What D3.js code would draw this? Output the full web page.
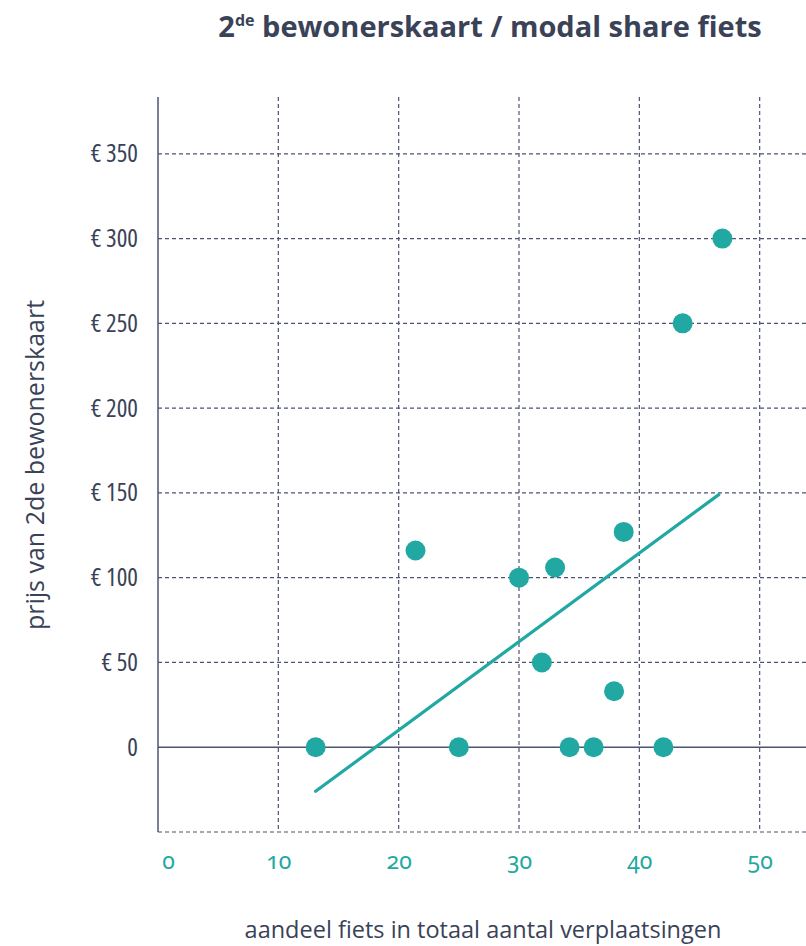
<!DOCTYPE html>
<meta charset="utf-8">
<html>
<head>
	<script src="https://cdn.jsdelivr.net/npm/d3@7"></script>
	<style>
		body { margin: 0; background: #fff; }
		text { font-family: "Open Sans", sans-serif; }
		.tick-x { font-family: "Noto Sans", sans-serif; font-variant-numeric: oldstyle-nums; font-feature-settings: "onum" 1; }
		.tick-y { font-family: "Open Sans", sans-serif; font-stretch: 87.5%; }
	</style>
</head>
<body>
	<svg id="chart"></svg>
	<script>
	// data
	var shareFiets = [13.1, 21.4, 25.0, 30.0, 33.0, 31.9, 34.2, 36.2, 37.9, 38.7, 42.0, 43.6, 46.9];
	var prijs      = [0,    116,  0,    100,  106,  50,   0,    0,    33,   127,  0,    250,  300];
	var trendX = [13.1, 46.6];
	var trendY = [-26, 149];
	var xTicks = [0, 10, 20, 30, 40, 50];
	var yTicks = [0, 50, 100, 150, 200, 250, 300, 350];

	var svgWidth = 806, svgHeight = 946;
	var teal = "#22a8a2", ink = "#3a4258", grid = "#4d5470";

	var margin = {top: 97, right: 0, bottom: 114, left: 158},
		graphWidth = svgWidth - margin.left - margin.right,
		graphHeight = svgHeight - margin.top - margin.bottom;

	var x = d3.scaleLinear().domain([0, 53.85]).range([0, graphWidth]);
	var y = d3.scaleLinear().domain([-50, 383.5]).range([graphHeight, 0]);

	var svg = d3.select("#chart").attr("width", svgWidth).attr("height", svgHeight);

	// title with superscript
	var title = svg.append("text")
		.attr("x", 490).attr("y", 37)
		.attr("text-anchor", "middle")
		.attr("fill", ink)
		.style("font-size", "29px").style("font-weight", "bold");
	title.append("tspan").text("2");
	title.append("tspan").attr("dy", -11).style("font-size", "16px").text("de");
	title.append("tspan").attr("dy", 11).text(" bewonerskaart / modal share fiets");

	var g = svg.append("g").attr("transform", "translate(" + margin.left + "," + margin.top + ")");

	// vertical dashed grid
	g.selectAll(".vgrid").data(xTicks.filter(function(d) { return d > 0; }))
		.enter().append("line")
		.attr("x1", function(d) { return x(d); }).attr("x2", function(d) { return x(d); })
		.attr("y1", 0).attr("y2", graphHeight)
		.attr("stroke", grid).attr("stroke-width", 1.2).attr("stroke-dasharray", "4,3");

	// horizontal dashed grid (incl. the -50 bottom line)
	g.selectAll(".hgrid").data([-50].concat(yTicks.filter(function(d) { return d > 0; })))
		.enter().append("line")
		.attr("x1", 0).attr("x2", graphWidth)
		.attr("y1", function(d) { return y(d); }).attr("y2", function(d) { return y(d); })
		.attr("stroke", grid).attr("stroke-width", 1.2).attr("stroke-dasharray", "4,3");

	// zero line + y axis line
	g.append("line").attr("x1", 0).attr("x2", graphWidth).attr("y1", y(0)).attr("y2", y(0))
		.attr("stroke", grid).attr("stroke-width", 1.5);
	g.append("line").attr("x1", 0).attr("x2", 0).attr("y1", 0).attr("y2", graphHeight)
		.attr("stroke", grid).attr("stroke-width", 1.5);

	// y axis labels
	var yAxis = d3.axisLeft(y).tickValues(yTicks).tickSize(0).tickPadding(20)
		.tickFormat(function(d) { return d === 0 ? "0" : "\u20ac " + d; });
	var ya = g.append("g").call(yAxis);
	ya.select(".domain").remove();
	ya.selectAll("text").attr("class", "tick-y").attr("fill", ink)
		.style("font-size", "25px").style("font-family", null);

	// x axis labels
	var xAxis = d3.axisBottom(x).tickValues(xTicks).tickSize(0).tickPadding(21)
		.tickFormat(d3.format("d"));
	var xa = g.append("g").attr("transform", "translate(0," + graphHeight + ")").call(xAxis);
	xa.select(".domain").remove();
	xa.selectAll("text").attr("class", "tick-x").attr("fill", teal)
		.style("font-size", "23px").style("font-family", null);
	xa.selectAll(".tick").filter(function(d) { return d === 0; }).select("text").attr("dx", 10);

	// trend line
	var line = d3.line()
		.x(function(d) { return x(d[0]); })
		.y(function(d) { return y(d[1]); });
	g.append("path").datum(d3.zip(trendX, trendY))
		.attr("d", line).attr("fill", "none")
		.attr("stroke", teal).attr("stroke-width", 3.2).attr("stroke-linecap", "round");

	// points
	g.selectAll(".dot").data(d3.zip(shareFiets, prijs))
		.enter().append("circle")
		.attr("cx", function(d) { return x(d[0]); })
		.attr("cy", function(d) { return y(d[1]); })
		.attr("r", 10).attr("fill", teal);

	// axis titles
	svg.append("text")
		.attr("transform", "translate(44,465) rotate(-90)")
		.attr("text-anchor", "middle").attr("fill", ink)
		.style("font-size", "25px")
		.text("prijs van 2de bewonerskaart");

	svg.append("text")
		.attr("x", 483).attr("y", 938)
		.attr("text-anchor", "middle").attr("fill", ink)
		.style("font-size", "23.5px")
		.text("aandeel fiets in totaal aantal verplaatsingen");
	</script>
</body>
</html>
